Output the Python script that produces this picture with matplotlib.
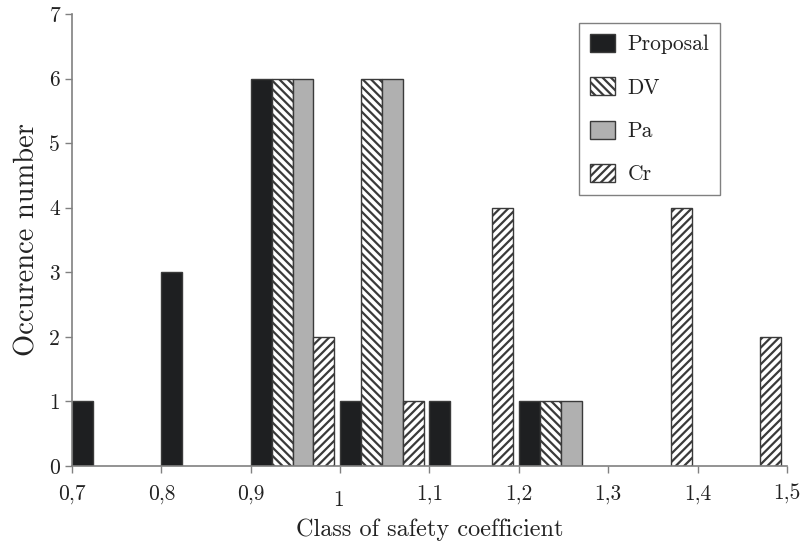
import numpy as np
import matplotlib
matplotlib.use("Agg")
import matplotlib.pyplot as plt
from matplotlib.transforms import ScaledTranslation

classes = [0.7, 0.8, 0.9, 1.0, 1.1, 1.2, 1.3, 1.4]
proposal = [1, 3, 6, 1, 1, 1, 0, 0]
dv = [0, 0, 6, 6, 0, 1, 0, 0]
pa = [0, 0, 6, 6, 0, 1, 0, 0]
cr = [0, 0, 2, 1, 4, 0, 4, 2]
series_names = ["Proposal", "DV", "Pa", "Cr"]
xtick_vals = [0.7, 0.8, 0.9, 1.0, 1.1, 1.2, 1.3, 1.4, 1.5]
xtick_labels = ["0,7", "0,8", "0,9", "1", "1,1", "1,2", "1,3", "1,4", "1,5"]

plt.rcParams['font.family'] = ['cmr10', 'DejaVu Serif']
plt.rcParams['hatch.linewidth'] = 1.6
plt.rcParams['hatch.color'] = '#1e1f21'

fig = plt.figure(figsize=(8.01, 5.43), dpi=100)
ax = fig.add_axes([0.0899, 0.1418, 0.8926, 0.8324])

w = 0.0234
x = np.array(classes)
styles = [
    dict(facecolor='#1e1f21', hatch=None),
    dict(facecolor='white', hatch='\\\\\\\\'),
    dict(facecolor='#b0b0b0', hatch=None),
    dict(facecolor='white', hatch='////'),
]
for i, (vals, name, st) in enumerate(zip([proposal, dv, pa, cr], series_names, styles)):
    vals = np.array(vals)
    mask = vals > 0
    ax.bar(x[mask] + i * w, vals[mask], width=w, align='edge', label=name,
           facecolor=st['facecolor'], hatch=st['hatch'], edgecolor='#3a3a3a', linewidth=1.0)

ax.set_xlim(0.7, 1.5)
ax.set_ylim(0, 7)
ax.set_xticks(xtick_vals)
ax.set_xticklabels(xtick_labels)
ax.set_yticks(range(8))
for s in ['top', 'right']:
    ax.spines[s].set_visible(False)
for s in ['left', 'bottom']:
    ax.spines[s].set_color('#808080')
    ax.spines[s].set_linewidth(1.2)
ax.tick_params(axis='both', colors='#808080', labelcolor='#222222', labelsize=15.5, length=5, width=1.0)
ax.tick_params(axis='x', pad=8)

for lab in ax.get_xticklabels():
    if lab.get_text() == "1":
        lab.set_transform(lab.get_transform() + ScaledTranslation(-1.5/72, -4.5/72, fig.dpi_scale_trans))

ax.set_xlabel("Class of safety coefficient", fontsize=17.5, color='#222222', labelpad=6)
ax.set_ylabel("Occurence number", fontsize=20.5, color='#222222', labelpad=6)

leg = ax.legend(loc='upper left', bbox_to_anchor=(0.709, 0.980), fontsize=15.5, frameon=True,
                fancybox=False, edgecolor='#808080', framealpha=1, handlelength=1.16,
                handleheight=0.93, labelspacing=1.06, borderpad=0.5, handletextpad=0.6,
                borderaxespad=0)
leg.get_frame().set_linewidth(1.0)
for t in leg.get_texts():
    t.set_color('#222222')

fig.savefig("out.png", dpi=100)
